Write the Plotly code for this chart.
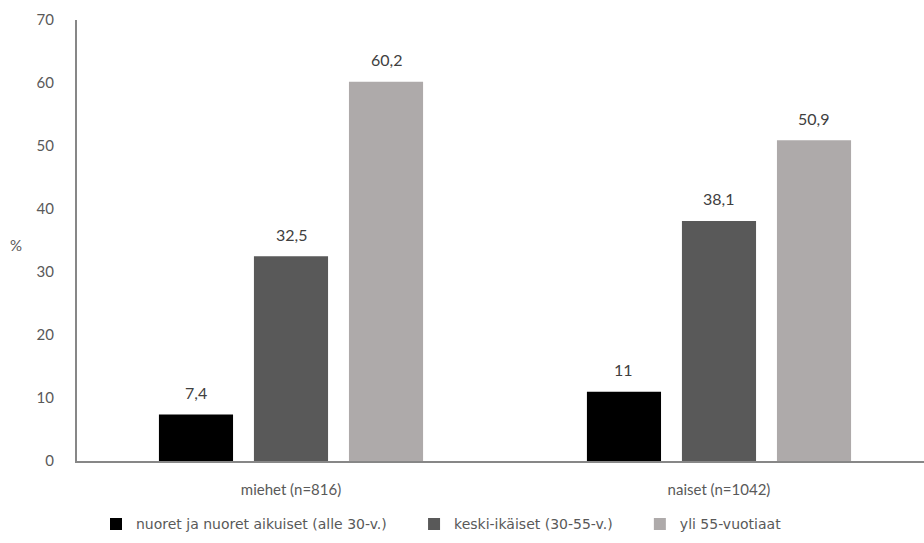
import plotly.graph_objects as go

# Share of respondents (%) by gender and age group
categories = ["miehet (n=816)", "naiset (n=1042)"]
series_names = [
    "nuoret ja nuoret aikuiset (alle 30-v.)",
    "keski-ikäiset (30-55-v.)",
    "yli 55-vuotiaat",
]
young = [7.4, 11]
middle = [32.5, 38.1]
older = [60.2, 50.9]
y_ticks = [0, 10, 20, 30, 40, 50, 60, 70]

series_values = [young, middle, older]
colors = ["#000000", "#595959", "#AEAAAA"]

FONT = "Lato, Carlito, Calibri, sans-serif"
LEGEND_FONT = "DejaVu Sans, Verdana, sans-serif"
TEXT_GREY = "#595959"
LABEL_GREY = "#404040"
PAD = "\u00a0" * 5  # extra room between legend entries


def fi_number(v):
    return f"{v:g}".replace(".", ",")


fig = go.Figure()
for name, vals, col in zip(series_names, series_values, colors):
    fig.add_trace(go.Bar(
        x=categories, y=vals, name=name + PAD,
        marker=dict(color=col, line=dict(width=0)),
    ))

# value labels above each bar, offset to the bar's slot within its group
slot_px = 95
for i, vals in enumerate(series_values):
    for cat, v in zip(categories, vals):
        fig.add_annotation(
            x=cat, y=v, text=fi_number(v), showarrow=False,
            xshift=(i - 1) * slot_px, yshift=22, yanchor="middle",
            font=dict(family=FONT, size=16, color=LABEL_GREY),
        )

fig.add_annotation(
    xref="paper", yref="paper", x=-0.072, y=0.49, text="%", showarrow=False,
    xanchor="center", yanchor="middle",
    font=dict(family=FONT, size=15, color=TEXT_GREY),
)

fig.update_layout(
    width=924, height=543,
    margin=dict(l=77, r=0, t=20, b=82),
    paper_bgcolor="white", plot_bgcolor="white",
    barmode="group", bargap=0.334, bargroupgap=0.22,
    font=dict(family=FONT, size=15, color=TEXT_GREY),
    showlegend=True,
    legend=dict(
        orientation="h", xref="container", yref="container",
        x=96 / 924, xanchor="left", y=0.005, yanchor="bottom",
        font=dict(family=LEGEND_FONT, size=14, color=TEXT_GREY),
        itemwidth=30, tracegroupgap=0,
    ),
)
fig.update_xaxes(
    type="category", range=[-0.5, 1.479],
    showline=True, linecolor="#878787", linewidth=2,
    showgrid=False, ticks="", ticklabelstandoff=14,
    tickfont=dict(family=FONT, size=15, color=TEXT_GREY),
)
fig.update_yaxes(
    range=[0, 70], tickvals=y_ticks,
    showline=True, linecolor="#878787", linewidth=2,
    showgrid=False, zeroline=False, ticks="", ticklabelstandoff=18,
    tickfont=dict(family=FONT, size=15, color=TEXT_GREY),
)

fig.write_html("out.html")
